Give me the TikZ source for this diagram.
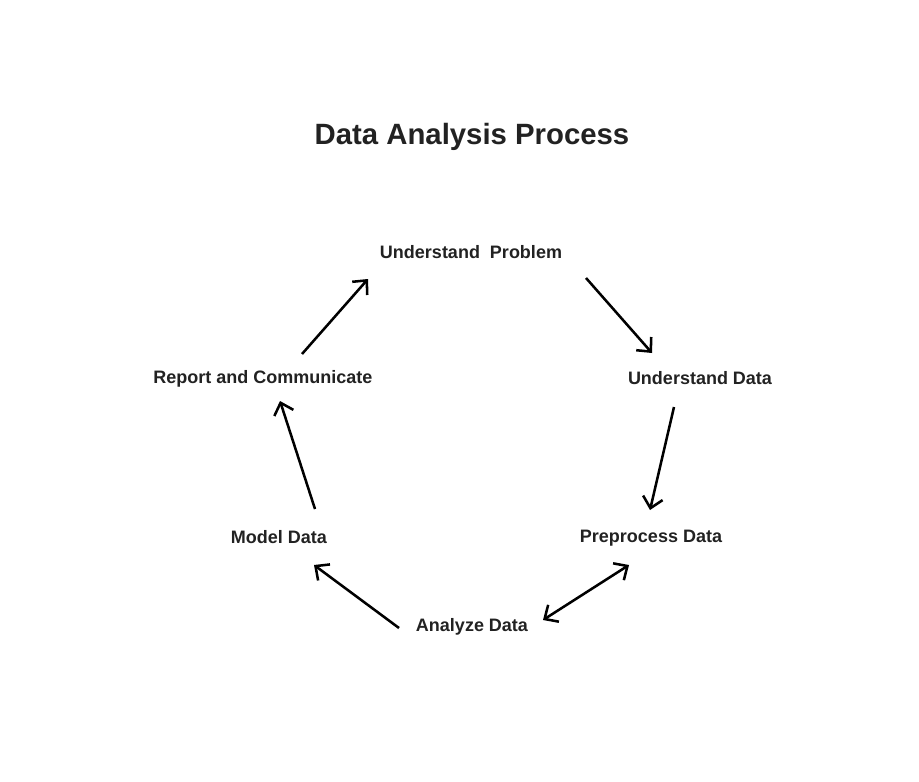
\documentclass[tikz,border=0pt]{standalone}
\usepackage{fontspec}
\setmainfont{Liberation Sans}
\usetikzlibrary{arrows.meta}
\definecolor{txt}{HTML}{222222}
\tikzset{
  lbl/.style={text=txt,font=\bfseries\fontsize{13.5pt}{16pt}\selectfont,inner sep=0pt},
  ttl/.style={text=txt,font=\bfseries\fontsize{22pt}{26pt}\selectfont,inner sep=0pt},
  conn/.style={line width=1.9pt,black,-{Straight Barb[length=8pt,width=15pt,line width=1.9pt]}},
  conn2/.style={line width=1.9pt,black,{Straight Barb[length=8pt,width=15pt,line width=1.9pt]}-{Straight Barb[length=8pt,width=15pt,line width=1.9pt]}}
}
\begin{document}
\begin{tikzpicture}[x=0.75pt,y=-0.75pt]
\useasboundingbox[fill=white] (0,0) rectangle (919,781);
\node[ttl] (title) at (472,137) {Data Analysis Process};
\node[lbl] (up) at (471,252) {Understand\ \ Problem};
\node[lbl] (ud) at (700,378) {Understand Data};
\node[lbl] (pd) at (651,538) {Preprocess Data};
\node[lbl] (ad) at (472,627) {Analyze Data};
\node[lbl] (md) at (279,537) {Model Data};
\node[lbl] (rc) at (263,379) {Report and Communicate};
% connector ends
\coordinate (a1s) at ([shift={(115,26)}]up.center);
\coordinate (a1e) at ([shift={(-48,-25)}]ud.center);
\coordinate (a2s) at ([shift={(-26,29)}]ud.center);
\coordinate (a2e) at ([shift={(-1,-28)}]pd.center);
\coordinate (a3s) at ([shift={(-22,27)}]pd.center);
\coordinate (a3e) at ([shift={(71,-7)}]ad.center);
\coordinate (a4s) at ([shift={(-73,1)}]ad.center);
\coordinate (a4e) at ([shift={(35,28)}]md.center);
\coordinate (a5s) at ([shift={(36,-28)}]md.center);
\coordinate (a5e) at ([shift={(17,22)}]rc.center);
\coordinate (a6s) at ([shift={(39,-25)}]rc.center);
\coordinate (a6e) at ([shift={(-103,27)}]up.center);
\draw[conn] (a1s) -- (a1e);
\draw[conn] (a2s) -- (a2e);
\draw[conn2] (a3s) -- (a3e);
\draw[conn] (a4s) -- (a4e);
\draw[conn] (a5s) -- (a5e);
\draw[conn] (a6s) -- (a6e);
\end{tikzpicture}
\end{document}
